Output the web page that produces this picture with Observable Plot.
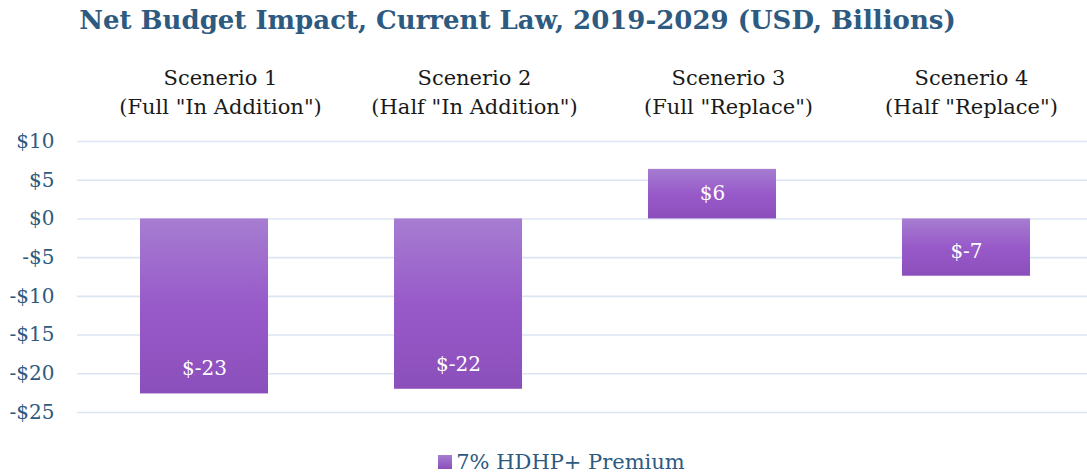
<!DOCTYPE html>
<html>
<head>
<meta charset="utf-8">
<script src="https://cdn.jsdelivr.net/npm/d3@7"></script>
<script src="https://cdn.jsdelivr.net/npm/@observablehq/plot@0.6"></script>
<style>
  html, body { margin: 0; padding: 0; background: #fff; }
  #wrap { width: 1087px; height: 474px; overflow: hidden; font-family: "DejaVu Serif", serif; }
  #title { height: 40px; line-height: 40px; text-align: center; padding-right: 52px; font-weight: bold; font-size: 26px; color: #2d5a80; white-space: nowrap; }
  #legend { height: 29px; display: flex; justify-content: center; align-items: center; padding-left: 36px; padding-top: 4px; box-sizing: border-box; color: #2d5a80; font-size: 21px; }
  #legend .sw { width: 14px; height: 14px; margin-right: 4px; background: linear-gradient(#a67dd1, #8b4fbb); }
  svg { display: block; }
</style>
</head>
<body>
<div id="wrap">
  <div id="title">Net Budget Impact, Current Law, 2019-2029 (USD, Billions)</div>
  <div id="chart"></div>
  <div id="legend"><span class="sw"></span><span>7% HDHP+ Premium</span></div>
</div>
<script>
const categories = ["Scenerio 1\n(Full \"In Addition\")", "Scenerio 2\n(Half \"In Addition\")", "Scenerio 3\n(Full \"Replace\")", "Scenerio 4\n(Half \"Replace\")"];
const values = [-22.6, -22.0, 6.4, -7.4];
const valueLabels = ["$-23", "$-22", "$6", "$-7"];
const yTicks = [10, 5, 0, -5, -10, -15, -20, -25];
const seriesName = "7% HDHP+ Premium";

const data = categories.map((c, i) => ({cat: c, value: values[i], label: valueLabels[i]}));
const fmt = d => d < 0 ? "-$" + (-d) : "$" + d;

const defs = () => {
  const g = d3.create("svg:defs");
  const lg = g.append("linearGradient").attr("id", "barGrad").attr("x1", 0).attr("y1", 0).attr("x2", 0).attr("y2", 1);
  lg.append("stop").attr("offset", "0%").attr("stop-color", "#a67dd1");
  lg.append("stop").attr("offset", "50%").attr("stop-color", "#985ac9");
  lg.append("stop").attr("offset", "100%").attr("stop-color", "#8b4fbb");
  return g.node();
};

const chart = Plot.plot({
  width: 1087,
  height: 405,
  marginLeft: 77,
  marginRight: 0,
  marginTop: 101,
  marginBottom: 33,
  style: {fontFamily: "DejaVu Serif, serif", fontSize: "20px", background: "#fff"},
  x: {domain: categories, paddingInner: 0.495, paddingOuter: 0.23, align: 0.53, axis: null},
  y: {domain: [-25, 10], axis: null},
  marks: [
    defs,
    Plot.ruleY(yTicks, {stroke: "#dce6f2", strokeWidth: 1.6}),
    Plot.axisY({ticks: yTicks, tickSize: 0, tickPadding: 23, tickFormat: fmt, fill: "#2d5a80", fontSize: 20, label: null}),
    Plot.barY(data, {x: "cat", y: "value", fill: "url(#barGrad)"}),
    Plot.text(data.filter(d => d.value < 0), {x: "cat", y: "value", text: "label", dy: -25, fill: "#fff", fontSize: 20}),
    Plot.text(data.filter(d => d.value >= 0), {x: "cat", y: "value", text: "label", dy: 24, fill: "#fff", fontSize: 20}),
    Plot.text(data.slice(0, 3), {x: "cat", text: "cat", frameAnchor: "top", dy: -51, dx: 16, lineAnchor: "middle", lineHeight: 1.35, fill: "#1a1a1a", fontSize: 21}),
    Plot.text(data.slice(3), {x: "cat", text: "cat", frameAnchor: "top", dy: -51, dx: 5, lineAnchor: "middle", lineHeight: 1.35, fill: "#1a1a1a", fontSize: 21})
  ]
});
document.getElementById("chart").appendChild(chart);
</script>
</body>
</html>
